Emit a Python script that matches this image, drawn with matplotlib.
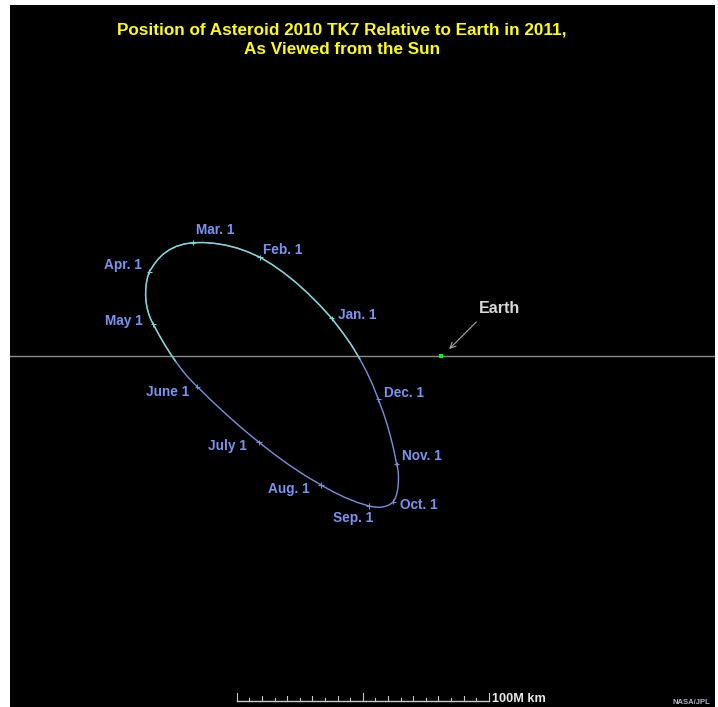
import matplotlib
matplotlib.use('Agg')
import matplotlib.pyplot as plt
import numpy as np

# asteroid position relative to Earth, million km (x along ecliptic, y above/below), starting Jan. 1
orbit_x = [-43.37, -48.13, -52.90, -57.66, -62.42, -67.18, -71.83, -76.47, -80.99, -85.52,
           -90.04, -94.44, -98.53, -101.98, -105.16, -107.94, -110.32, -112.30, -113.89, -115.75,
           -116.47, -116.94, -117.18, -117.22, -117.06, -116.67, -116.03, -115.20, -114.17, -111.98,
           -109.80, -107.62, -105.44, -103.25, -101.07, -98.89, -96.71, -90.60, -84.48, -78.37,
           -72.22, -66.07, -59.92, -53.77, -47.62, -42.86, -38.10, -33.33, -28.57, -26.98,
           -25.40, -23.81, -22.22, -20.83, -19.76, -18.93, -18.25, -17.74, -17.34, -17.06,
           -16.90, -16.87, -16.98, -17.22, -17.58, -18.61, -19.84, -21.27, -22.94, -24.88,
           -26.94, -29.40, -32.26, -35.48, -39.25, -43.37]
orbit_y = [14.96, 20.20, 24.96, 29.25, 33.06, 36.39, 39.17, 41.27, 42.86, 44.01,
           44.72, 45.04, 44.96, 44.44, 43.45, 42.06, 40.36, 38.37, 36.31, 33.45,
           31.15, 28.77, 26.39, 24.01, 21.63, 19.25, 16.87, 14.60, 12.58, 8.53,
           4.76, 1.27, -1.94, -4.92, -7.66, -10.04, -12.18, -18.17, -23.81, -29.21,
           -34.25, -39.05, -43.49, -47.54, -51.19, -53.85, -56.15, -58.06, -59.52, -59.84,
           -60.00, -60.00, -59.72, -59.21, -58.57, -57.82, -56.67, -55.36, -53.77, -51.98,
           -50.00, -48.02, -46.03, -44.44, -42.98, -37.82, -32.66, -27.50, -22.34, -17.18,
           -11.83, -6.47, -1.11, 4.25, 9.60, 14.96]

months = ['Jan. 1', 'Feb. 1', 'Mar. 1', 'Apr. 1', 'May 1', 'June 1',
          'July 1', 'Aug. 1', 'Sep. 1', 'Oct. 1', 'Nov. 1', 'Dec. 1']
month_x = [-43.37, -71.83, -98.53, -115.75, -114.17, -96.71, -72.22, -47.62, -28.57, -18.93, -17.58, -24.88]
month_y = [14.96, 39.17, 44.96, 33.45, 12.58, -12.18, -34.25, -51.19, -59.52, -57.82, -42.98, -17.18]

# label placement (pixels from marker) and alignment
lab_dx = [6, 3, 3, -7, -11, -8, -12, -11, 4, 7, 5, 6]
lab_dy = [3, 7, 13, 7, 3, -5, -4, -4, -12, -3, 8, 6]
lab_ha = ['left', 'left', 'left', 'right', 'right', 'right', 'right', 'right',
          'right', 'left', 'left', 'left']

scale_ticks = np.arange(0, 101, 5)

upper_col = '#80d8d0'
lower_col = '#7890e0'
label_col = '#7894f0'

fig = plt.figure(figsize=(7.18, 7.07), dpi=100, facecolor='white')
ax = fig.add_axes([10/718, 0, 705/718, 702/707])
ax.set_facecolor('black')
ax.set_xlim(-171.03, 108.73)
ax.set_ylim(-139.29, 139.29)
ax.set_xticks([])
ax.set_yticks([])
for s in ax.spines.values():
    s.set_visible(False)

# ecliptic line
ax.axhline(0, color='#8c8c8c', lw=1, zorder=1)

ox = np.array(orbit_x)
oy = np.array(orbit_y)
ax.plot(ox, oy, color=lower_col, lw=1, zorder=2)
ax.plot(ox, np.ma.masked_where(oy < -2, oy), color=upper_col, lw=1, zorder=2)

mx = np.array(month_x)
my = np.array(month_y)
cols = [upper_col if v > 0 else lower_col for v in my]
ax.scatter(mx, my, marker='+', s=14, c=cols, linewidths=0.8, zorder=3)

for i, name in enumerate(months):
    ax.annotate(name, (month_x[i], month_y[i]), xytext=(lab_dx[i], lab_dy[i]),
                textcoords='offset pixels', ha=lab_ha[i], va='center',
                color=label_col, fontsize=9.8, fontweight='bold',
                family='Liberation Sans')

# Earth
ax.scatter([0], [0], s=8, marker='s', color='#00ff00', linewidths=0, zorder=4)
ax.annotate('', xy=(2.5, 2.0), xytext=(14.8, 14.3),
            arrowprops=dict(arrowstyle='->', color='#a8a8a8', lw=0.8))
ax.text(15.0, 18.9, 'Earth', color='#d8d8d8', fontsize=11.5, fontweight='bold',
        family='Liberation Sans', va='center', ha='left')

# scale bar
x0, y0 = -81.07, -136.9
ax.plot([x0, x0 + 100], [y0, y0], color='#c8c8c8', lw=1)
for t in scale_ticks:
    if t % 50 == 0:
        h = 3.2
    elif t % 10 == 0:
        h = 2.0
    else:
        h = 1.2
    ax.plot([x0 + t, x0 + t], [y0, y0 + h], color='#c8c8c8', lw=0.8)
ax.text(x0 + 101.3, y0 - 0.3, '100M km', color='#e8e8e8', fontsize=9.2,
        fontweight='bold', family='Liberation Sans', va='baseline', ha='left')

fig.text(710/718, 1 - 703/707, 'NASA/JPL', color='#b4b4c4', fontsize=5.5,
         fontweight='bold', family='Liberation Sans', ha='right', va='center')

fig.text(342/718, 1 - 39.5/707,
         'Position of Asteroid 2010 TK7 Relative to Earth in 2011,\nAs Viewed from the Sun',
         color='#ffff00', fontsize=12.3, fontweight='bold',
         family=['Liberation Sans Narrow', 'Liberation Sans'],
         ha='center', va='center', linespacing=1.35)

fig.savefig('out.png', dpi=100, facecolor='white')
